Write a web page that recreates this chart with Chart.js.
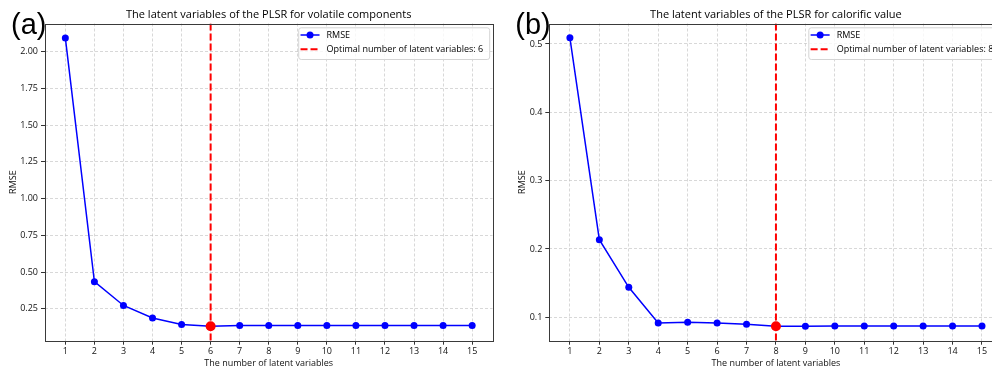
<!DOCTYPE html>
<html><head><meta charset="utf-8">
<script src="https://cdn.jsdelivr.net/npm/chart.js@4.4.1/dist/chart.umd.min.js"></script>
<style>
html,body{margin:0;padding:0;background:#fff;overflow:hidden;width:992px;height:367px;}
#wrap{position:relative;width:992px;height:367px;overflow:hidden;}
.box{position:absolute;top:0;height:367px;}
#boxA{left:0;width:500px;}
#boxB{left:500px;width:510px;}
</style></head><body>
<div id="wrap">
<div class="box" id="boxA"><canvas id="cA" width="500" height="367"></canvas></div>
<div class="box" id="boxB"><canvas id="cB" width="510" height="367"></canvas></div>
</div>
<script>
// ---- data ----
const latentCounts = [1,2,3,4,5,6,7,8,9,10,11,12,13,14,15];
const xTickValues = [1,2,3,4,5,6,7,8,9,10,11,12,13,14,15];
const rmseVolatile = [2.095,0.434,0.272,0.187,0.143,0.130,0.136,0.136,0.136,0.136,0.136,0.136,0.136,0.136,0.136];
const rmseCalorific = [0.509,0.2136,0.1439,0.0917,0.0927,0.0917,0.0898,0.0868,0.0870,0.0873,0.0873,0.0873,0.0873,0.0873,0.0873];
const yTicksVolatile = [0.25,0.50,0.75,1.00,1.25,1.50,1.75,2.00];
const yTicksCalorific = [0.1,0.2,0.3,0.4,0.5];
const optimalVolatile = 6;
const optimalCalorific = 8;
const titleVolatile = 'The latent variables of the PLSR for volatile components';
const titleCalorific = 'The latent variables of the PLSR for calorific value';
const xTitle = 'The number of latent variables';
const yTitle = 'RMSE';
const legendRmse = 'RMSE';
const legendOptimalPrefix = 'Optimal number of latent variables: ';

const FONT = '"Open Sans", "Noto Sans", sans-serif';

function makeChart(canvasId, cfg) {
  const pts = latentCounts.map((k, i) => ({x: k, y: cfg.values[i]}));
  const optIdx = latentCounts.indexOf(cfg.optimal);
  const optPt = [{x: cfg.optimal, y: cfg.values[optIdx]}];

  const decor = {
    id: 'decor',
    afterDatasetDraw(chart, args) {
      if (args.index !== 0) return;
      const ctx = chart.ctx, ca = chart.chartArea;
      const xp = chart.scales.x.getPixelForValue(cfg.optimal);
      ctx.save();
      ctx.beginPath();
      ctx.rect(ca.left, ca.top, ca.right - ca.left, ca.bottom - ca.top);
      ctx.clip();
      ctx.strokeStyle = '#ff0000';
      ctx.lineWidth = 2;
      ctx.setLineDash([7, 3]);
      ctx.beginPath();
      ctx.moveTo(xp, ca.top);
      ctx.lineTo(xp, ca.bottom);
      ctx.stroke();
      ctx.restore();
    },
    afterDraw(chart) {
      const ctx = chart.ctx, ca = chart.chartArea;
      ctx.save();
      // spines
      ctx.strokeStyle = '#3a3a3a';
      ctx.lineWidth = 1;
      ctx.strokeRect(Math.round(ca.left) + 0.5, Math.round(ca.top) + 0.5,
                     Math.round(ca.right) - Math.round(ca.left), Math.round(ca.bottom) - Math.round(ca.top));
      // title
      ctx.fillStyle = '#000';
      ctx.font = '11px ' + FONT;
      ctx.textAlign = 'center';
      ctx.textBaseline = 'middle';
      ctx.fillText(cfg.title, (ca.left + ca.right) / 2, 15);
      // legend
      ctx.font = '9px ' + FONT;
      const t1 = legendRmse, t2 = legendOptimalPrefix + cfg.optimal;
      const tw = Math.max(ctx.measureText(t1).width, ctx.measureText(t2).width);
      const right = ca.right - 3.3, top = ca.top + 3.8;
      const w = 2.3 + 19 + 7 + tw + 6, h = 31.7;
      const left = right - w;
      ctx.beginPath();
      ctx.roundRect(left + 0.5, top + 0.5, w, h, 2.5);
      ctx.fillStyle = 'rgba(255,255,255,0.8)';
      ctx.fill();
      ctx.strokeStyle = '#d4d4d4';
      ctx.lineWidth = 1;
      ctx.stroke();
      const hx0 = left + 2.3, hx1 = left + 21.3;
      const r1 = top + 7.7, r2 = top + 22;
      ctx.strokeStyle = '#0000ff';
      ctx.lineWidth = 1.5;
      ctx.beginPath(); ctx.moveTo(hx0, r1); ctx.lineTo(hx1, r1); ctx.stroke();
      ctx.fillStyle = '#0000ff';
      ctx.beginPath(); ctx.arc((hx0 + hx1) / 2, r1, 3.5, 0, Math.PI * 2); ctx.fill();
      ctx.strokeStyle = '#ff0000';
      ctx.lineWidth = 2;
      ctx.setLineDash([7, 3]);
      ctx.beginPath(); ctx.moveTo(hx0, r2); ctx.lineTo(hx1, r2); ctx.stroke();
      ctx.setLineDash([]);
      ctx.fillStyle = '#000';
      ctx.textAlign = 'left';
      ctx.textBaseline = 'middle';
      ctx.fillText(t1, left + 28.3, r1);
      ctx.fillText(t2, left + 28.3, r2);
      // panel label
      ctx.font = '29px "Liberation Sans", Arial, sans-serif';
      ctx.textBaseline = 'alphabetic';
      ctx.fillText(cfg.panel, ca.left - 34, 34);
      ctx.restore();
    }
  };

  return new Chart(document.getElementById(canvasId), {
    type: 'line',
    data: {
      datasets: [
        {
          label: legendRmse,
          data: pts,
          borderColor: '#0000ff',
          backgroundColor: '#0000ff',
          borderWidth: 1.5,
          pointRadius: 3.5,
          pointBorderWidth: 0,
          pointBackgroundColor: '#0000ff',
          tension: 0,
          order: 1
        },
        {
          label: 'optimal',
          data: optPt,
          showLine: false,
          pointRadius: 5,
          pointBorderWidth: 0,
          pointBackgroundColor: '#ff0000',
          borderColor: '#ff0000',
          order: 0
        }
      ]
    },
    options: {
      responsive: false,
      animation: false,
      devicePixelRatio: 1,
      layout: {padding: {top: 23.5, right: cfg.padRight, left: 0, bottom: 0}},
      plugins: {legend: {display: false}, tooltip: {enabled: false}, title: {display: false}},
      scales: {
        x: {
          type: 'linear',
          min: 0.3, max: 15.7,
          afterBuildTicks(s) { s.ticks = xTickValues.map(v => ({value: v})); },
          afterFit(s) { s.height = 26.3; },
          ticks: {color: '#111', font: {family: FONT, size: 9, lineHeight: 1.25}, padding: 0.7, maxRotation: 0, autoSkip: false,
                  callback: v => String(v)},
          grid: {color: 'rgba(190,190,190,0.75)', lineWidth: 0.8, tickLength: 4, tickColor: '#333', tickWidth: 1},
          border: {display: false, dash: [3, 2]},
          title: {display: true, text: xTitle, color: '#111', font: {family: FONT, size: 9, lineHeight: 0.9}, padding: 0}
        },
        y: {
          type: 'linear',
          min: cfg.yMin, max: cfg.yMax,
          afterBuildTicks(s) { s.ticks = cfg.yTicks.map(v => ({value: v})); },
          afterFit(s) { s.width = cfg.yWidth; },
          ticks: {color: '#111', font: {family: FONT, size: 9}, padding: 3,
                  callback: v => v.toFixed(cfg.decimals)},
          grid: {color: 'rgba(190,190,190,0.75)', lineWidth: 0.8, tickLength: 4, tickColor: '#333', tickWidth: 1},
          border: {display: false, dash: [3, 2]},
          title: {display: true, text: yTitle, color: '#111', font: {family: FONT, size: 9, lineHeight: 1.2}, padding: {top: cfg.yTitlePad, bottom: 0}}
        }
      }
    },
    plugins: [decor]
  });
}

makeChart('cA', {
  values: rmseVolatile, optimal: optimalVolatile, yTicks: yTicksVolatile,
  yMin: 0.032, yMax: 2.193, decimals: 2, yWidth: 45, padRight: 7.5, yTitlePad: 7.9,
  title: titleVolatile, panel: '(a)'
});
makeChart('cB', {
  values: rmseCalorific, optimal: optimalCalorific, yTicks: yTicksCalorific,
  yMin: 0.0657, yMax: 0.530, decimals: 1, yWidth: 49.3, padRight: 7.4, yTitlePad: 17.3,
  title: titleCalorific, panel: '(b)'
});
</script>
</body></html>
